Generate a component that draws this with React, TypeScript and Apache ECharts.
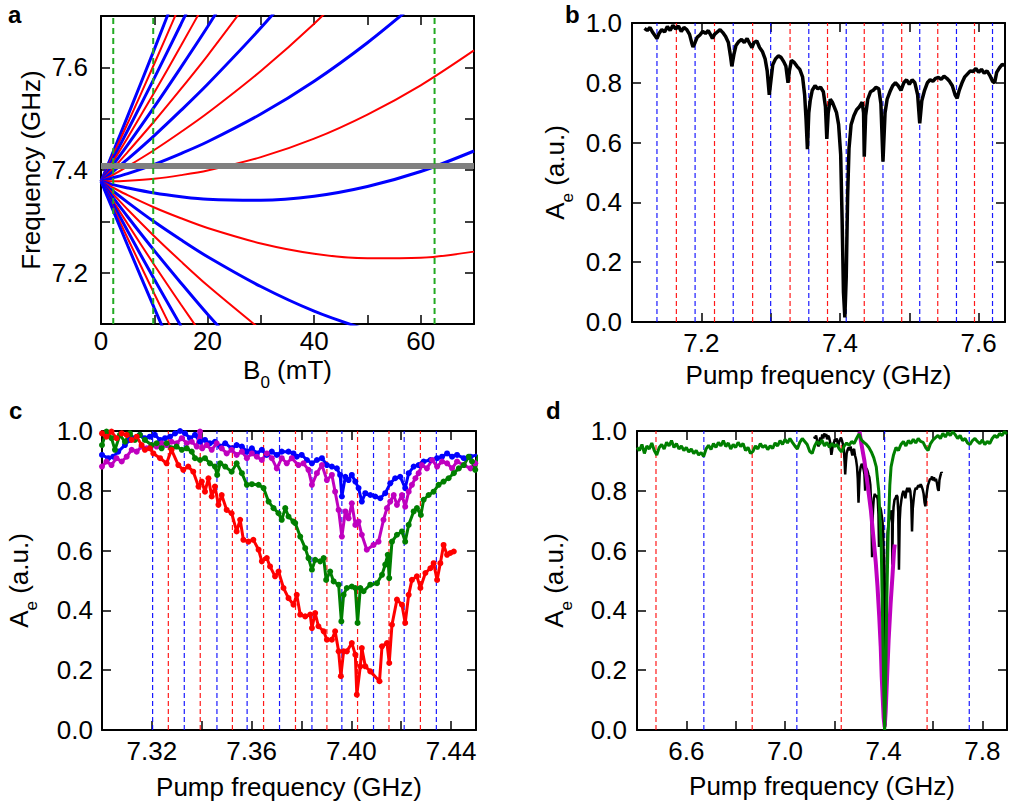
import React, { useEffect, useRef } from 'react';
import * as echarts from 'echarts';

const FONT = '"Liberation Sans", Arial, sans-serif';

// ---------- Panel a : transition frequencies vs field ----------
const fieldB = [0, 2, 5, 10, 15, 20, 30, 40, 50, 60, 70];
// order n = 9 ... -9 (odd = blue, even = red)
const transitionN = [9, 8, 7, 6, 5, 4, 3, 2, 1, 0, -1, -2, -3, -4, -5, -6, -7, -8, -9];
const transitionFreqs = [
  [7.378, 7.428, 7.505, 7.635, 7.768],
  [7.378, 7.423, 7.491, 7.607, 7.726],
  [7.378, 7.417, 7.477, 7.579, 7.684, 7.791],
  [7.378, 7.412, 7.463, 7.551, 7.642, 7.735],
  [7.378, 7.406, 7.449, 7.523, 7.600, 7.679, 7.845],
  [7.378, 7.400, 7.435, 7.495, 7.558, 7.623, 7.761],
  [7.378, 7.395, 7.421, 7.467, 7.516, 7.567, 7.677, 7.797],
  [7.378, 7.389, 7.407, 7.439, 7.474, 7.511, 7.593, 7.685, 7.788],
  [7.378, 7.384, 7.393, 7.411, 7.432, 7.455, 7.509, 7.573, 7.648, 7.733],
  [7.378, 7.378, 7.379, 7.383, 7.390, 7.399, 7.425, 7.461, 7.508, 7.565, 7.633],
  [7.378, 7.372, 7.365, 7.355, 7.348, 7.343, 7.341, 7.349, 7.368, 7.397, 7.437],
  [7.378, 7.367, 7.351, 7.327, 7.306, 7.287, 7.257, 7.237, 7.228, 7.229, 7.241],
  [7.378, 7.361, 7.337, 7.299, 7.264, 7.231, 7.173, 7.125, 7.088],
  [7.378, 7.356, 7.323, 7.271, 7.222, 7.175, 7.089],
  [7.378, 7.350, 7.309, 7.243, 7.180, 7.119, 7.005],
  [7.378, 7.344, 7.295, 7.215, 7.138, 7.063],
  [7.378, 7.339, 7.281, 7.187, 7.096],
  [7.378, 7.333, 7.267, 7.159, 7.054],
  [7.378, 7.328, 7.253, 7.131, 7.012],
];
const resonatorFreq = 7.408;
const greenFields = [2.3, 9.8, 62.6];

// ---------- Panel b : pump spectroscopy ----------
const traceB: [number, number][] = [
  [7.118, 0.982], [7.122, 0.975], [7.126, 0.985], [7.130, 0.968], [7.134, 0.955], [7.136, 0.948],
  [7.139, 0.965], [7.143, 0.978], [7.147, 0.970], [7.151, 0.988], [7.155, 0.975], [7.159, 0.992],
  [7.163, 0.980], [7.167, 0.990], [7.171, 0.972], [7.175, 0.985], [7.179, 0.978], [7.183, 0.962],
  [7.186, 0.935], [7.188, 0.920], [7.191, 0.935], [7.194, 0.952], [7.198, 0.960], [7.202, 0.972],
  [7.206, 0.965], [7.210, 0.975], [7.214, 0.958], [7.216, 0.948], [7.219, 0.962], [7.223, 0.970],
  [7.227, 0.978], [7.231, 0.968], [7.235, 0.955], [7.239, 0.935], [7.242, 0.890], [7.244, 0.855],
  [7.247, 0.895], [7.250, 0.925], [7.254, 0.938], [7.258, 0.945], [7.262, 0.935], [7.266, 0.948],
  [7.270, 0.930], [7.273, 0.918], [7.276, 0.935], [7.280, 0.940], [7.284, 0.918], [7.288, 0.905],
  [7.292, 0.880], [7.295, 0.840], [7.298, 0.760], [7.300, 0.800], [7.303, 0.860], [7.307, 0.880],
  [7.311, 0.890], [7.315, 0.885], [7.319, 0.870], [7.322, 0.855], [7.325, 0.800], [7.327, 0.840],
  [7.330, 0.875], [7.334, 0.868], [7.338, 0.855], [7.342, 0.845], [7.346, 0.820], [7.349, 0.760],
  [7.351, 0.680], [7.353, 0.578], [7.355, 0.700], [7.357, 0.740], [7.360, 0.775], [7.364, 0.790],
  [7.368, 0.780], [7.372, 0.785], [7.376, 0.770], [7.379, 0.720], [7.381, 0.612], [7.383, 0.700],
  [7.386, 0.745], [7.389, 0.735], [7.392, 0.718], [7.395, 0.700], [7.398, 0.660], [7.401, 0.560],
  [7.403, 0.350], [7.405, 0.100], [7.407, 0.015], [7.409, 0.150], [7.411, 0.420], [7.413, 0.580],
  [7.416, 0.660], [7.420, 0.690], [7.424, 0.710], [7.428, 0.720], [7.432, 0.735], [7.434, 0.700],
  [7.435, 0.553], [7.437, 0.690], [7.440, 0.745], [7.444, 0.770], [7.448, 0.775], [7.452, 0.785],
  [7.456, 0.780], [7.459, 0.730], [7.462, 0.536], [7.465, 0.700], [7.468, 0.745], [7.472, 0.770],
  [7.476, 0.790], [7.480, 0.800], [7.484, 0.790], [7.488, 0.775], [7.492, 0.800], [7.496, 0.810],
  [7.500, 0.795], [7.504, 0.810], [7.508, 0.800], [7.512, 0.760], [7.515, 0.664], [7.518, 0.740],
  [7.522, 0.775], [7.526, 0.800], [7.530, 0.810], [7.534, 0.805], [7.538, 0.815], [7.542, 0.818],
  [7.546, 0.812], [7.550, 0.822], [7.554, 0.815], [7.558, 0.805], [7.562, 0.790], [7.566, 0.760],
  [7.569, 0.748], [7.572, 0.775], [7.576, 0.800], [7.580, 0.820], [7.584, 0.830], [7.588, 0.840],
  [7.592, 0.838], [7.596, 0.848], [7.600, 0.835], [7.604, 0.845], [7.608, 0.832], [7.612, 0.840],
  [7.616, 0.825], [7.620, 0.805], [7.623, 0.800], [7.626, 0.835], [7.630, 0.850], [7.634, 0.862],
  [7.637, 0.858],
];
const bBlueLines = [7.136, 7.191, 7.246, 7.300, 7.355, 7.409, 7.462, 7.515, 7.568, 7.620];
const bRedLines = [7.164, 7.219, 7.274, 7.328, 7.382, 7.435, 7.489, 7.541, 7.594];

// ---------- Panel c : four scans ----------
const cBlue: [number, number][] = [
  [7.300, 0.920], [7.3025, 0.909], [7.3045, 0.914], [7.3065, 0.931], [7.3092, 0.953], [7.3112, 0.970],
  [7.3132, 0.976], [7.3152, 0.987], [7.3172, 0.976], [7.3192, 0.981], [7.3212, 0.987], [7.3233, 0.970],
  [7.3253, 0.976], [7.3273, 0.981], [7.3293, 0.992], [7.3313, 1.0], [7.3333, 0.992], [7.3353, 0.976],
  [7.3373, 0.987], [7.3393, 0.964], [7.3413, 0.970], [7.3433, 0.959], [7.3453, 0.964], [7.3474, 0.948],
  [7.3494, 0.959], [7.3520, 0.942], [7.3540, 0.953], [7.3561, 0.948], [7.3581, 0.931], [7.3601, 0.942],
  [7.3621, 0.925], [7.3641, 0.937], [7.3661, 0.920], [7.3681, 0.931], [7.3701, 0.920], [7.3721, 0.931],
  [7.3748, 0.931], [7.3768, 0.925], [7.3781, 0.914], [7.3801, 0.920], [7.3822, 0.903], [7.3842, 0.892],
  [7.3862, 0.903], [7.3882, 0.909], [7.3902, 0.886], [7.3922, 0.881], [7.3942, 0.875], [7.3955, 0.853],
  [7.3962, 0.781], [7.3976, 0.847], [7.3989, 0.836], [7.4002, 0.853], [7.4016, 0.831], [7.4029, 0.809],
  [7.4042, 0.764], [7.4056, 0.792], [7.4076, 0.786], [7.4096, 0.781], [7.4116, 0.775], [7.4136, 0.792],
  [7.4156, 0.825], [7.4176, 0.842], [7.4196, 0.847], [7.4216, 0.809], [7.4230, 0.859], [7.4250, 0.881],
  [7.4270, 0.886], [7.4290, 0.898], [7.4317, 0.903], [7.4344, 0.909], [7.4364, 0.914], [7.4384, 0.925],
  [7.4404, 0.914], [7.4424, 0.920], [7.4451, 0.909], [7.4478, 0.914], [7.4504, 0.920],
];
const cMagenta: [number, number][] = [
  [7.300, 0.881], [7.3018, 0.898], [7.3038, 0.886], [7.3058, 0.909], [7.3079, 0.898], [7.3099, 0.914],
  [7.3119, 0.937], [7.3139, 0.931], [7.3159, 0.948], [7.3179, 0.942], [7.3199, 0.953], [7.3219, 0.948],
  [7.3239, 0.959], [7.3259, 0.953], [7.3279, 0.964], [7.3299, 0.959], [7.3320, 0.976], [7.3340, 0.959],
  [7.3360, 0.964], [7.3380, 0.948], [7.3393, 0.998], [7.3402, 0.942], [7.3420, 0.953], [7.3440, 0.937],
  [7.3460, 0.959], [7.3480, 0.942], [7.3500, 0.925], [7.3520, 0.937], [7.3540, 0.920], [7.3561, 0.931],
  [7.3581, 0.909], [7.3601, 0.925], [7.3621, 0.914], [7.3641, 0.903], [7.3661, 0.925], [7.3681, 0.909],
  [7.3701, 0.875], [7.3721, 0.909], [7.3741, 0.892], [7.3761, 0.909], [7.3788, 0.886], [7.3808, 0.892],
  [7.3828, 0.870], [7.3842, 0.820], [7.3862, 0.859], [7.3882, 0.886], [7.3902, 0.836], [7.3922, 0.853],
  [7.3935, 0.797], [7.3949, 0.736], [7.3962, 0.647], [7.3976, 0.731], [7.3989, 0.708], [7.4002, 0.758],
  [7.4016, 0.686], [7.4029, 0.697], [7.4042, 0.653], [7.4062, 0.603], [7.4089, 0.619], [7.4109, 0.630],
  [7.4129, 0.703], [7.4143, 0.742], [7.4156, 0.764], [7.4170, 0.786], [7.4183, 0.753], [7.4203, 0.786],
  [7.4216, 0.747], [7.4230, 0.797], [7.4243, 0.820], [7.4257, 0.842], [7.4270, 0.859], [7.4283, 0.886],
  [7.4303, 0.875], [7.4324, 0.903], [7.4344, 0.881], [7.4364, 0.898], [7.4384, 0.892], [7.4404, 0.875],
  [7.4424, 0.898], [7.4451, 0.886], [7.4478, 0.875], [7.4497, 0.892], [7.4510, 0.909],
];
const cGreen: [number, number][] = [
  [7.300, 0.953], [7.3018, 0.998], [7.3038, 0.976], [7.3052, 0.937], [7.3072, 0.987], [7.3092, 0.964],
  [7.3112, 0.992], [7.3132, 0.970], [7.3152, 0.987], [7.3172, 0.970], [7.3199, 0.953], [7.3219, 0.959],
  [7.3239, 0.942], [7.3259, 0.959], [7.3279, 0.942], [7.3299, 0.948], [7.3320, 0.937], [7.3340, 0.942],
  [7.3360, 0.931], [7.3373, 0.909], [7.3393, 0.903], [7.3413, 0.909], [7.3433, 0.892], [7.3453, 0.881],
  [7.3462, 0.853], [7.3474, 0.892], [7.3494, 0.881], [7.3520, 0.864], [7.3540, 0.892], [7.3561, 0.859],
  [7.3581, 0.820], [7.3601, 0.822], [7.3628, 0.820], [7.3648, 0.809], [7.3668, 0.764], [7.3688, 0.742],
  [7.3708, 0.725], [7.3721, 0.703], [7.3735, 0.742], [7.3748, 0.714], [7.3768, 0.697], [7.3775, 0.692],
  [7.3795, 0.647], [7.3815, 0.608], [7.3828, 0.575], [7.3842, 0.536], [7.3855, 0.569], [7.3875, 0.564],
  [7.3889, 0.575], [7.3899, 0.502], [7.3915, 0.530], [7.3929, 0.497], [7.3949, 0.486], [7.3960, 0.363],
  [7.3969, 0.452], [7.3982, 0.475], [7.4002, 0.480], [7.4016, 0.475], [7.4025, 0.358], [7.4036, 0.475],
  [7.4049, 0.464], [7.4076, 0.486], [7.4103, 0.491], [7.4123, 0.519], [7.4136, 0.553], [7.4146, 0.586],
  [7.4152, 0.508], [7.4163, 0.630], [7.4183, 0.653], [7.4203, 0.664], [7.4216, 0.630], [7.4230, 0.686],
  [7.4250, 0.731], [7.4263, 0.742], [7.4279, 0.719], [7.4290, 0.770], [7.4310, 0.786], [7.4330, 0.797],
  [7.4350, 0.820], [7.4370, 0.831], [7.4390, 0.842], [7.4411, 0.859], [7.4431, 0.875], [7.4451, 0.886],
  [7.4471, 0.914], [7.4484, 0.898], [7.4497, 0.870], [7.4510, 0.920],
];
const cRed: [number, number][] = [
  [7.300, 0.992], [7.3018, 0.981], [7.3038, 0.998], [7.3058, 0.976], [7.3079, 0.992], [7.3099, 0.987],
  [7.3119, 0.970], [7.3139, 0.981], [7.3159, 0.953], [7.3172, 0.937], [7.3192, 0.942], [7.3206, 0.925],
  [7.3233, 0.909], [7.3259, 0.892], [7.3279, 0.937], [7.3306, 0.886], [7.3326, 0.870], [7.3346, 0.881],
  [7.3366, 0.864], [7.3387, 0.814], [7.3400, 0.831], [7.3413, 0.797], [7.3427, 0.842], [7.3440, 0.781],
  [7.3453, 0.814], [7.3467, 0.753], [7.3480, 0.786], [7.3500, 0.736], [7.3520, 0.725], [7.3540, 0.664],
  [7.3554, 0.703], [7.3567, 0.636], [7.3587, 0.630], [7.3607, 0.636], [7.3628, 0.603], [7.3641, 0.564],
  [7.3661, 0.575], [7.3674, 0.547], [7.3694, 0.514], [7.3708, 0.530], [7.3728, 0.475], [7.3748, 0.441],
  [7.3768, 0.419], [7.3781, 0.452], [7.3795, 0.386], [7.3815, 0.380], [7.3835, 0.386], [7.3842, 0.341],
  [7.3855, 0.391], [7.3868, 0.347], [7.3889, 0.330], [7.3902, 0.302], [7.3922, 0.302], [7.3935, 0.330],
  [7.3949, 0.263], [7.3958, 0.180], [7.3969, 0.263], [7.3982, 0.263], [7.4002, 0.291], [7.4016, 0.252],
  [7.4022, 0.118], [7.4036, 0.213], [7.4042, 0.274], [7.4056, 0.213], [7.4076, 0.196], [7.4113, 0.163],
  [7.4123, 0.280], [7.4143, 0.291], [7.4152, 0.224], [7.4163, 0.352], [7.4183, 0.436], [7.4203, 0.419],
  [7.4216, 0.358], [7.4230, 0.452], [7.4243, 0.502], [7.4263, 0.514], [7.4277, 0.475], [7.4297, 0.525],
  [7.4317, 0.541], [7.4330, 0.558], [7.4344, 0.502], [7.4357, 0.558], [7.4370, 0.619], [7.4384, 0.586],
  [7.4397, 0.592], [7.4411, 0.597],
];
const cBlueLines = [7.3203, 7.3330, 7.3461, 7.3582, 7.3712, 7.3842, 7.3962, 7.4089, 7.4212, 7.4341];
const cRedLines = [7.3266, 7.3394, 7.3523, 7.3648, 7.3776, 7.3902, 7.4025, 7.4151, 7.4277];

// ---------- Panel d : wide scans ----------
const dGreen: [number, number][] = [
  [6.40, 0.945], [6.41, 0.935], [6.42, 0.955], [6.43, 0.925], [6.44, 0.950], [6.45, 0.940], [6.46, 0.960],
  [6.47, 0.935], [6.48, 0.920], [6.49, 0.945], [6.50, 0.955], [6.51, 0.940], [6.52, 0.962], [6.53, 0.950],
  [6.54, 0.968], [6.55, 0.945], [6.56, 0.958], [6.57, 0.940], [6.58, 0.950], [6.59, 0.935], [6.60, 0.945],
  [6.61, 0.930], [6.62, 0.940], [6.63, 0.925], [6.64, 0.935], [6.65, 0.920], [6.66, 0.928], [6.67, 0.915],
  [6.68, 0.940], [6.69, 0.952], [6.70, 0.938], [6.71, 0.958], [6.72, 0.945], [6.73, 0.962], [6.74, 0.950],
  [6.75, 0.968], [6.76, 0.948], [6.77, 0.960], [6.78, 0.940], [6.79, 0.955], [6.80, 0.945], [6.81, 0.962],
  [6.82, 0.948], [6.83, 0.958], [6.84, 0.935], [6.85, 0.945], [6.86, 0.925], [6.87, 0.932], [6.88, 0.950],
  [6.89, 0.940], [6.90, 0.958], [6.91, 0.945], [6.92, 0.952], [6.93, 0.938], [6.94, 0.950], [6.95, 0.942],
  [6.96, 0.960], [6.97, 0.950], [6.98, 0.968], [6.99, 0.955], [7.00, 0.972], [7.01, 0.960], [7.02, 0.975],
  [7.03, 0.962], [7.04, 0.950], [7.05, 0.940], [7.06, 0.962], [7.07, 0.975], [7.08, 0.965], [7.09, 0.955],
  [7.10, 0.932], [7.11, 0.925], [7.12, 0.950], [7.13, 0.965], [7.14, 0.955], [7.15, 0.970], [7.16, 0.950],
  [7.17, 0.962], [7.18, 0.945], [7.19, 0.958], [7.20, 0.948], [7.21, 0.955], [7.22, 0.940], [7.23, 0.930],
  [7.24, 0.950], [7.25, 0.960], [7.26, 0.952], [7.27, 0.965], [7.28, 0.958], [7.29, 0.975], [7.30, 0.990],
  [7.31, 0.970], [7.32, 0.962], [7.33, 0.955], [7.34, 0.945], [7.35, 0.930], [7.36, 0.910], [7.37, 0.880],
  [7.38, 0.800], [7.39, 0.620], [7.395, 0.400], [7.400, 0.150], [7.404, 0.000], [7.408, 0.150],
  [7.412, 0.400], [7.418, 0.650], [7.425, 0.820], [7.43, 0.880], [7.44, 0.920], [7.45, 0.945], [7.46, 0.935],
  [7.47, 0.955], [7.48, 0.965], [7.49, 0.950], [7.50, 0.968], [7.51, 0.958], [7.52, 0.972], [7.53, 0.960],
  [7.54, 0.975], [7.55, 0.965], [7.56, 0.962], [7.57, 0.945], [7.58, 0.935], [7.59, 0.958], [7.60, 0.970],
  [7.61, 0.978], [7.62, 0.985], [7.63, 0.975], [7.64, 0.992], [7.65, 0.980], [7.66, 0.995], [7.67, 0.985],
  [7.68, 0.998], [7.69, 0.988], [7.70, 0.975], [7.71, 0.985], [7.72, 0.968], [7.73, 0.975], [7.74, 0.960],
  [7.75, 0.955], [7.76, 0.968], [7.77, 0.975], [7.78, 0.965], [7.79, 0.958], [7.80, 0.970], [7.81, 0.955],
  [7.82, 0.965], [7.83, 0.958], [7.84, 0.975], [7.85, 0.985], [7.86, 0.978], [7.87, 0.992], [7.88, 0.985],
  [7.89, 0.998], [7.90, 0.990],
];
const dMagenta: [number, number][] = [
  [7.302, 0.998], [7.310, 0.955], [7.322, 0.900], [7.335, 0.820], [7.348, 0.736], [7.360, 0.630],
  [7.368, 0.560], [7.375, 0.480], [7.382, 0.380], [7.388, 0.280], [7.392, 0.180], [7.396, 0.110],
  [7.400, 0.040], [7.404, 0.010], [7.408, 0.060], [7.414, 0.180], [7.420, 0.300], [7.428, 0.420],
  [7.436, 0.520], [7.442, 0.600], [7.445, 0.620],
];
const dBlueLines = [6.671, 7.048, 7.404, 7.747];
const dRedLines = [6.477, 6.867, 7.228, 7.576];

// ---------- layout ----------
const grids = [
  { left: 101, top: 16, width: 373, height: 308 },
  { left: 632, top: 23, width: 373, height: 299 },
  { left: 102, top: 431, width: 374, height: 299 },
  { left: 637, top: 431, width: 374, height: 299 },
];

const richName = {
  m: { fontSize: 26, fontFamily: FONT, color: '#000', lineHeight: 34, verticalAlign: 'top' },
  s: { fontSize: 17, fontFamily: FONT, color: '#000', lineHeight: 20, verticalAlign: 'bottom' },
};

const labelEvery = (base: number, every: number, digits: number) => (v: number) => {
  const k = (v - base) / every;
  return Math.abs(k - Math.round(k)) < 1e-6 ? v.toFixed(digits) : '';
};

function makeAxes(g: number, x: any, y: any) {
  const common = {
    type: 'value',
    gridIndex: g,
    splitLine: { show: false },
    axisLine: { show: true, onZero: false, lineStyle: { color: '#000', width: 2 } },
    axisTick: { show: true, inside: true, length: 9, lineStyle: { color: '#000', width: 1.5 } },
  };
  const xs = [
    {
      ...common,
      position: 'bottom',
      min: x.min, max: x.max, interval: x.interval,
      axisLabel: { show: true, margin: x.margin, fontSize: 26, fontFamily: FONT, color: '#000', formatter: x.fmt },
      name: x.name, nameLocation: 'middle', nameGap: x.gap,
      nameTextStyle: { fontSize: 26, fontFamily: FONT, color: '#000', rich: richName },
    },
    { ...common, position: 'top', min: x.min, max: x.max, interval: x.interval, axisLabel: { show: false } },
  ];
  const ys = [
    {
      ...common,
      position: 'left',
      min: y.min, max: y.max, interval: y.interval,
      axisLabel: { show: true, margin: y.margin, fontSize: 26, fontFamily: FONT, color: '#000', formatter: y.fmt },
      name: y.name, nameLocation: 'middle', nameGap: y.gap, nameRotate: 90,
      nameTextStyle: { fontSize: 26, fontFamily: FONT, color: '#000', rich: richName },
    },
    { ...common, position: 'right', min: y.min, max: y.max, interval: y.interval, axisLabel: { show: false } },
  ];
  return { xs, ys };
}

const lineSeries = (g: number, data: any[], color: string, width: number, extra: any = {}) => ({
  type: 'line',
  xAxisIndex: g * 2,
  yAxisIndex: g * 2,
  data,
  symbol: 'none',
  showSymbol: false,
  lineStyle: { color, width },
  itemStyle: { color },
  clip: true,
  z: 3,
  ...extra,
});

const vDashes = (g: number, xs: number[], color: string, y0: number, y1: number) =>
  xs.map((x) =>
    lineSeries(g, [[x, y0], [x, y1]], color, 1.2, {
      lineStyle: { color, width: 1.2, type: [5, 3], opacity: 0.9 },
      z: 2,
    })
  );

export default function App() {
  const ref = useRef<HTMLDivElement>(null);
  useEffect(() => {
    if (!ref.current) return;
    const chart = echarts.init(ref.current, undefined, { renderer: 'svg' });

    const A = makeAxes(0,
      { min: 0, max: 70, interval: 10, fmt: labelEvery(0, 20, 0), name: '{m|B}{s|0}{m| (mT)}', gap: 33, margin: 4 },
      { min: 7.1, max: 7.7, interval: 0.1, fmt: labelEvery(7.2, 0.2, 1), name: 'Frequency (GHz)', gap: 57, margin: 13 });
    const B = makeAxes(1,
      { min: 7.1, max: 7.638, interval: 0.1, fmt: labelEvery(7.2, 0.2, 1), name: 'Pump frequency (GHz)', gap: 40, margin: 8 },
      { min: 0, max: 1, interval: 0.2, fmt: labelEvery(0, 0.2, 1), name: '{m|A}{s|e}{m| (a.u.)}', gap: 56, margin: 10 });
    const C = makeAxes(2,
      { min: 7.3, max: 7.45, interval: 0.02, fmt: labelEvery(7.32, 0.04, 2), name: 'Pump frequency (GHz)', gap: 44, margin: 8 },
      { min: 0, max: 1, interval: 0.2, fmt: labelEvery(0, 0.2, 1), name: '{m|A}{s|e}{m| (a.u.)}', gap: 62, margin: 9 });
    const D = makeAxes(3,
      { min: 6.4, max: 7.9, interval: 0.2, fmt: labelEvery(6.6, 0.4, 1), name: 'Pump frequency (GHz)', gap: 43, margin: 8 },
      { min: 0, max: 1, interval: 0.2, fmt: labelEvery(0, 0.2, 1), name: '{m|A}{s|e}{m| (a.u.)}', gap: 62, margin: 10 });

    const series: any[] = [];
    // panel a
    transitionFreqs.forEach((fs, i) => {
      const n = transitionN[i];
      const blue = Math.abs(n) % 2 === 1;
      series.push(lineSeries(0, fs.map((f, j) => [fieldB[j], f]), blue ? '#0000ff' : '#ff0000', blue ? 3 : 2, { smooth: 0.3 }));
    });
    series.push(lineSeries(0, [[0, resonatorFreq], [70, resonatorFreq]], '#808080', 6, { z: 4 }));
    greenFields.forEach((b) =>
      series.push(lineSeries(0, [[b, 7.1], [b, 7.7]], '#22aa22', 2, { lineStyle: { color: '#22aa22', width: 2, type: [6, 4] }, z: 5 }))
    );
    // panel b
    series.push(...vDashes(1, bBlueLines, '#0000ff', 0, 1));
    series.push(...vDashes(1, bRedLines, '#ff0000', 0, 1));
    series.push(lineSeries(1, traceB, '#000000', 3.5));
    // panel c
    series.push(...vDashes(2, cBlueLines, '#0000ff', 0, 1));
    series.push(...vDashes(2, cRedLines, '#ff0000', 0, 1));
    const dotted = (data: any[], color: string) =>
      lineSeries(2, data, color, 3, { symbol: 'circle', symbolSize: 6, showSymbol: true, itemStyle: { color, borderWidth: 0 } });
    series.push(dotted(cBlue, '#0000ff'));
    series.push(dotted(cMagenta, '#bf00bf'));
    series.push(dotted(cGreen, '#007f00'));
    series.push(dotted(cRed, '#ff0000'));
    // panel d
    series.push(...vDashes(3, dBlueLines, '#0000ff', 0, 1));
    series.push(...vDashes(3, dRedLines, '#ff0000', 0, 1));
    series.push(lineSeries(3, traceB, '#000000', 2.5));
    series.push(lineSeries(3, dMagenta, '#bf00bf', 4));
    series.push(lineSeries(3, dGreen, '#007f00', 3));

    const letter = (t: string, x: number, y: number) => ({
      type: 'text',
      left: x,
      top: y,
      style: { text: t, fontSize: 24, fontWeight: 'bold', fontFamily: FONT, fill: '#000' },
    });

    chart.setOption({
      animation: false,
      backgroundColor: '#ffffff',
      grid: grids,
      xAxis: [...A.xs, ...B.xs, ...C.xs, ...D.xs],
      yAxis: [...A.ys, ...B.ys, ...C.ys, ...D.ys],
      series,
      graphic: [letter('a', 8, 2), letter('b', 565, 2), letter('c', 9, 398), letter('d', 546, 398)],
    });
    return () => chart.dispose();
  }, []);
  return <div ref={ref} style={{ position: 'absolute', left: 0, top: 0, width: 1010, height: 807, background: '#fff' }} />;
}
